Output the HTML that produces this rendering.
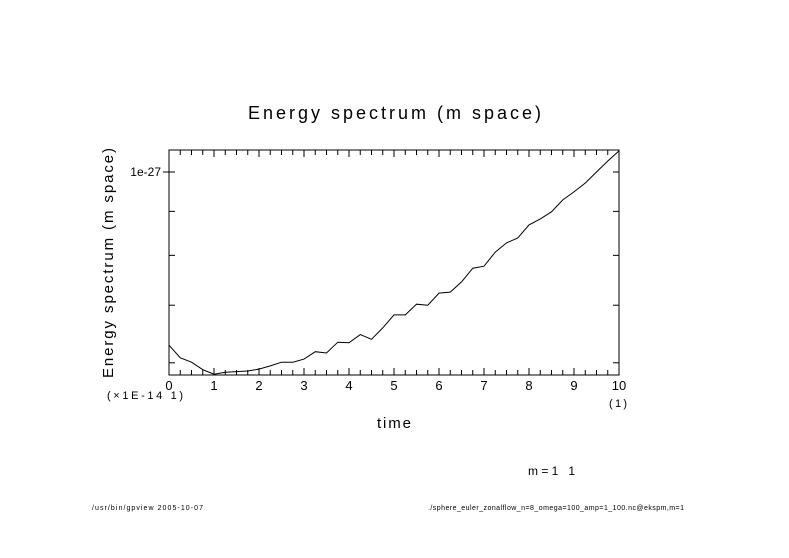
<!DOCTYPE html>
<html><head><meta charset="utf-8"><style>
html,body{margin:0;padding:0;background:#fff;}
svg{display:block;font-family:"Liberation Sans",sans-serif;}
</style></head><body>
<svg id="chart" width="789" height="558" viewBox="0 0 789 558" xmlns="http://www.w3.org/2000/svg">
<rect width="789" height="558" fill="#fff"/>
<text x="248" y="119" font-size="18" textLength="293" lengthAdjust="spacing">Energy spectrum (m space)</text>
<text transform="translate(113,378) rotate(-90)" font-size="15" textLength="230" lengthAdjust="spacing">Energy spectrum (m space)</text>
<text x="377" y="428" font-size="15" textLength="34" lengthAdjust="spacing">time</text>
<text x="107" y="399" font-size="11" textLength="76" lengthAdjust="spacing">(×1E-14 1)</text>
<text x="609" y="407" font-size="11" textLength="18" lengthAdjust="spacing">(1)</text>
<text x="528" y="475" font-size="12" textLength="47" lengthAdjust="spacing">m=1 1</text>
<text x="92" y="510" font-size="7" textLength="111" lengthAdjust="spacing">/usr/bin/gpview  2005-10-07</text>
<text x="428" y="510" font-size="7" textLength="256" lengthAdjust="spacing">./sphere_euler_zonalflow_n=8_omega=100_amp=1_100.nc@ekspm,m=1</text>
<g id="axes"></g>
<g id="plot"></g>
</svg>
<script>
const times = [0,0.25,0.5,0.75,1,1.25,1.5,1.75,2,2.25,2.5,2.75,3,3.25,3.5,3.75,4,4.25,4.5,4.75,5,5.25,5.5,5.75,6,6.25,6.5,6.75,7,7.25,7.5,7.75,8,8.25,8.5,8.75,9,9.25,9.5,9.75,10];
const energyE28 = [6.29,6.08,6.01,5.89,5.82,5.85,5.86,5.87,5.90,5.95,6.01,6.01,6.06,6.18,6.16,6.34,6.33,6.47,6.39,6.59,6.82,6.82,7.02,7.00,7.23,7.25,7.45,7.73,7.77,8.07,8.27,8.38,8.68,8.82,8.99,9.28,9.48,9.71,10.00,10.30,10.58];
const xTickLabels = ["0","1","2","3","4","5","6","7","8","9","10"];
const yTickValuesE28 = [6,7,8,9,10];
const yLabelText = "1e-27";

const NS="http://www.w3.org/2000/svg";
const L=169,R=619,T=150,B=375;
const xMin=0,xMax=10;
const yRef=172, pxPerDecade=860;
function xs(t){return L+(t-xMin)/(xMax-xMin)*(R-L);}
function ys(vE28){return yRef-Math.log10(vE28/10)*pxPerDecade;}
function mk(tag,attrs,parent){const e=document.createElementNS(NS,tag);for(const k in attrs)e.setAttribute(k,attrs[k]);parent.appendChild(e);return e;}
const axes=document.getElementById('axes'), plot=document.getElementById('plot');

const frame=mk('rect',{x:L,y:T,width:R-L,height:B-T,fill:'none',stroke:'#000','stroke-width':1},axes);



for(let i=0;i<=40;i++){
  const t=i*0.25, x=xs(t), len=(i%4===0)?7:5;
  const tb=mk('line',{x1:x,y1:B,x2:x,y2:B-len,stroke:'#000'},axes);
  
  
  const tt=mk('line',{x1:x,y1:T,x2:x,y2:T+len,stroke:'#000'},axes);
  
  
}
xTickLabels.forEach((lab,i)=>{
  const tx=mk('text',{x:xs(i),y:390,'font-size':13,'text-anchor':'middle'},axes);
  tx.textContent=lab;
  
  
});
yTickValuesE28.forEach(v=>{
  const y=ys(v);
  const major=(v===10);
  const tl=mk('line',{x1:major?L-6:L,y1:y,x2:L+6,y2:y,stroke:'#000'},axes);
  
  
  const tr=mk('line',{x1:R-6,y1:y,x2:R,y2:y,stroke:'#000'},axes);
  
  
  if(major){
    const ty=mk('text',{x:L-8,y:y+4,'font-size':12,'text-anchor':'end'},axes);
    ty.textContent=yLabelText;
    
    
  }
});
const d=times.map((t,i)=>(i?'L':'M')+xs(t).toFixed(1)+','+ys(energyE28[i]).toFixed(1)).join(' ');
const line=mk('path',{d:d,fill:'none',stroke:'#000','stroke-width':1},plot);


</script>
</body></html>
